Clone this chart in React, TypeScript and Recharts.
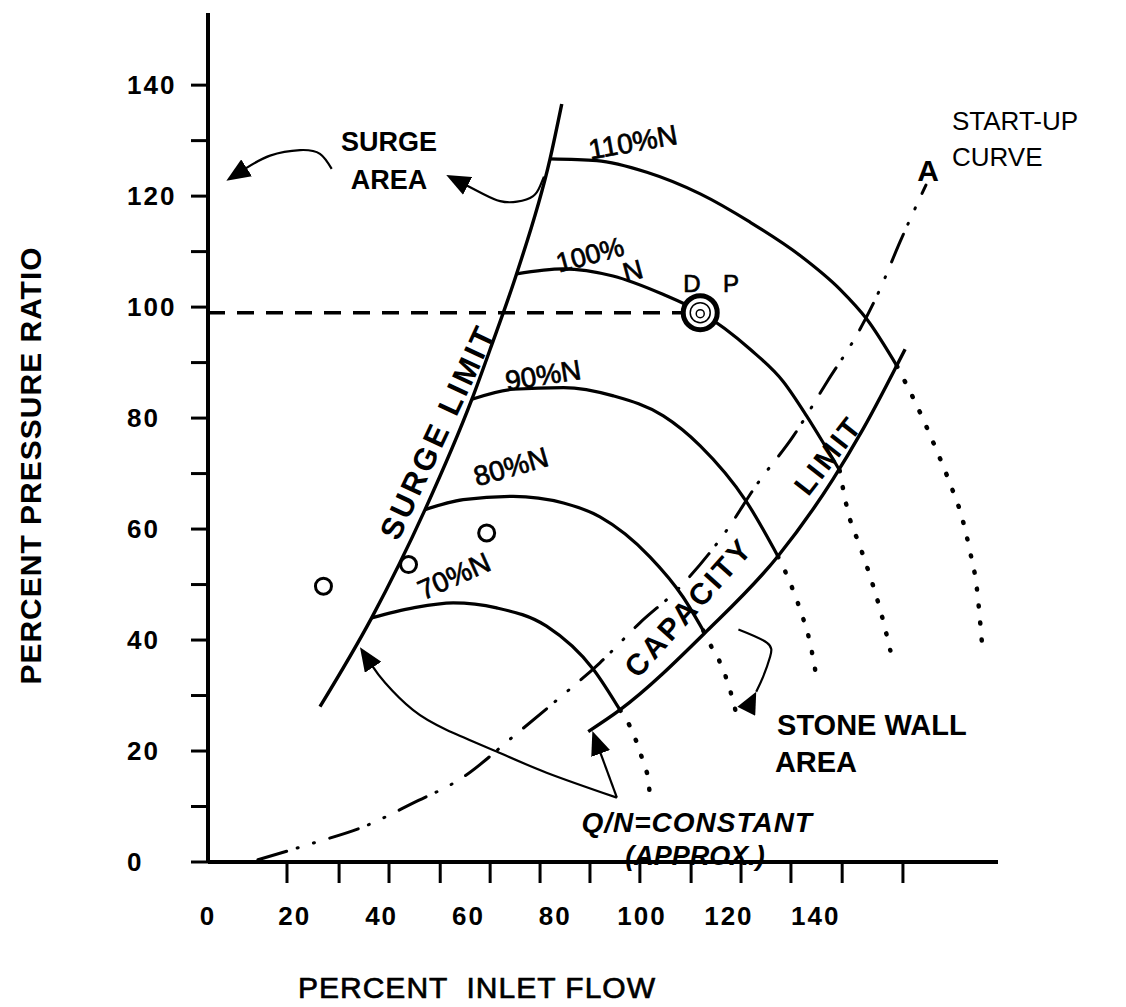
import React from "react";
import {
  ComposedChart,
  Line,
  Scatter,
  XAxis,
  YAxis,
  ReferenceDot,
} from "recharts";

type Pt = { x: number; y: number };

const FONT = '"Liberation Sans", Arial, Helvetica, sans-serif';

// axes
const yTicks = [0, 10, 20, 30, 40, 50, 60, 70, 80, 90, 100, 110, 120, 130, 140];
const yLabels = [0, 20, 40, 60, 80, 100, 120, 140];
const xLabels = [0, 20, 40, 60, 80, 100, 120, 140];
// the hand drawn tick marks on the flow axis do not sit under the labels
const xMarks = [18.2, 30.2, 41.7, 53.5, 65.0, 76.5, 88.0, 99.5, 111.3, 122.8, 134.3, 146.1, 160.1];

// surge limit and capacity (stone wall) limit
const surgeLimit: Pt[] = [
  { x: 25.8, y: 28.0 }, { x: 37.7, y: 44.0 }, { x: 50.0, y: 63.5 }, { x: 60.8, y: 83.4 },
  { x: 65.0, y: 92.4 }, { x: 71.1, y: 106.0 }, { x: 78.8, y: 126.7 }, { x: 81.5, y: 136.6 },
];
const capacityLimit: Pt[] = [
  { x: 87.6, y: 23.5 }, { x: 94.9, y: 27.4 }, { x: 114.9, y: 41.6 }, { x: 131.3, y: 55.1 },
  { x: 144.0, y: 69.0 }, { x: 150.9, y: 78.0 }, { x: 160.6, y: 92.4 },
];

// constant speed lines
const speed110: Pt[] = [
  { x: 78.8, y: 126.7 }, { x: 89.6, y: 126.4 }, { x: 101.1, y: 124.3 }, { x: 113.4, y: 120.4 },
  { x: 124.9, y: 115.3 }, { x: 136.4, y: 109.3 }, { x: 145.6, y: 103.2 }, { x: 151.8, y: 97.8 },
  { x: 158.7, y: 89.4 },
];
const speed100: Pt[] = [
  { x: 71.1, y: 106.0 }, { x: 81.8, y: 106.9 }, { x: 93.3, y: 105.6 }, { x: 104.8, y: 102.3 },
  { x: 113.4, y: 99.1 }, { x: 124.9, y: 92.4 }, { x: 132.5, y: 86.6 }, { x: 137.9, y: 80.4 },
  { x: 141.7, y: 75.6 }, { x: 145.5, y: 70.6 },
];
const speed90: Pt[] = [
  { x: 60.8, y: 83.4 }, { x: 70.3, y: 85.2 }, { x: 81.9, y: 85.5 }, { x: 93.4, y: 84.0 },
  { x: 104.9, y: 80.4 }, { x: 113.4, y: 75.0 }, { x: 124.0, y: 65.0 }, { x: 131.3, y: 55.1 },
];
const speed80: Pt[] = [
  { x: 50.0, y: 63.5 }, { x: 58.8, y: 65.3 }, { x: 70.3, y: 65.9 }, { x: 81.9, y: 64.7 },
  { x: 90.3, y: 62.2 }, { x: 101.8, y: 55.0 }, { x: 109.4, y: 47.8 }, { x: 114.1, y: 41.7 },
];
const speed70: Pt[] = [
  { x: 37.7, y: 44.0 }, { x: 47.3, y: 45.8 }, { x: 56.5, y: 46.7 }, { x: 66.5, y: 45.8 },
  { x: 78.0, y: 42.5 }, { x: 88.8, y: 34.7 }, { x: 94.9, y: 27.4 },
];

// dotted continuations into the stone wall area
const stone110: Pt[] = [
  { x: 158.7, y: 89.4 }, { x: 162.9, y: 82.9 }, { x: 167.9, y: 74.1 }, { x: 171.0, y: 68.1 },
  { x: 173.7, y: 62.1 }, { x: 175.6, y: 55.8 }, { x: 177.1, y: 49.5 }, { x: 178.3, y: 39.5 },
];
const stone100: Pt[] = [
  { x: 145.5, y: 70.6 }, { x: 147.5, y: 62.9 }, { x: 150.2, y: 56.9 }, { x: 152.9, y: 50.6 },
  { x: 155.2, y: 44.5 }, { x: 157.2, y: 38.1 },
];
const stone90: Pt[] = [
  { x: 131.3, y: 55.1 }, { x: 133.3, y: 51.8 }, { x: 136.4, y: 45.5 }, { x: 138.7, y: 39.5 },
  { x: 140.2, y: 33.2 },
];
const stone80: Pt[] = [
  { x: 114.1, y: 41.7 }, { x: 115.7, y: 39.2 }, { x: 118.0, y: 35.9 }, { x: 119.5, y: 32.9 },
  { x: 120.7, y: 29.8 }, { x: 121.8, y: 26.4 },
];
const stone70: Pt[] = [
  { x: 94.9, y: 27.4 }, { x: 97.6, y: 23.8 }, { x: 99.2, y: 20.6 }, { x: 100.3, y: 17.9 },
  { x: 101.5, y: 14.5 }, { x: 101.8, y: 11.6 },
];

const startUpCurve: Pt[] = [
  { x: 11.5, y: 0.4 }, { x: 24.2, y: 3.4 }, { x: 35.7, y: 6.3 }, { x: 47.2, y: 10.6 },
  { x: 58.8, y: 15.3 }, { x: 70.3, y: 22.6 }, { x: 80.4, y: 29.2 }, { x: 90.3, y: 35.9 },
  { x: 99.5, y: 43.1 }, { x: 108.8, y: 49.6 }, { x: 119.6, y: 59.9 }, { x: 126.5, y: 68.1 },
  { x: 134.8, y: 76.7 }, { x: 142.6, y: 86.5 }, { x: 150.2, y: 96.0 }, { x: 154.8, y: 103.2 },
  { x: 159.4, y: 111.7 }, { x: 165.4, y: 122.0 },
];

// design point and its pressure ratio
const designPoint: Pt[] = [{ x: 113.4, y: 99.0 }];
const designLine: Pt[] = [{ x: 0, y: 99.0 }, { x: 113.4, y: 99.0 }];
const openCircles: Pt[] = [{ x: 26.6, y: 49.7 }, { x: 46.2, y: 53.6 }, { x: 64.2, y: 59.3 }];

// annotation arrows
const qnArrowCurved: Pt[] = [
  { x: 94.2, y: 11.6 }, { x: 78.0, y: 16.1 }, { x: 66.5, y: 19.9 }, { x: 55.0, y: 23.8 },
  { x: 47.2, y: 27.4 }, { x: 40.8, y: 32.3 }, { x: 37.8, y: 35.4 },
];
const qnArrowStraight: Pt[] = [{ x: 94.2, y: 11.6 }, { x: 90.3, y: 19.9 }];
const surgeArrowLeft: Pt[] = [
  { x: 28.5, y: 124.9 }, { x: 25.8, y: 127.6 }, { x: 21.2, y: 128.3 }, { x: 14.3, y: 127.3 },
  { x: 8.5, y: 124.9 },
];
const surgeArrowRight: Pt[] = [
  { x: 77.4, y: 123.5 }, { x: 76.5, y: 121.8 }, { x: 74.9, y: 120.0 }, { x: 71.2, y: 119.0 },
  { x: 67.3, y: 119.1 }, { x: 63.4, y: 120.4 }, { x: 59.4, y: 122.0 },
];
const stoneArrow: Pt[] = [
  { x: 122.2, y: 41.9 }, { x: 128.8, y: 39.5 }, { x: 129.5, y: 37.0 }, { x: 127.9, y: 33.4 },
  { x: 126.3, y: 30.7 },
];

const YTick = (p: any) => {
  const v = p.payload?.value;
  if (!yLabels.includes(v)) return <g />;
  return (
    <text
      x={p.x - 60}
      y={p.y}
      textAnchor="start"
      dominantBaseline="central"
      fontFamily={FONT}
      fontSize={26}
      fontWeight="bold"
      letterSpacing={2}
      fill="#000"
    >
      {v}
    </text>
  );
};

const XTick = (p: any) => {
  const v = p.payload?.value;
  if (xLabels.includes(v)) {
    return (
      <text
        x={p.x}
        y={p.y + 54}
        textAnchor="middle"
        dominantBaseline="central"
        fontFamily={FONT}
        fontSize={26}
        fontWeight="bold"
        letterSpacing={2}
        fill="#000"
      >
        {v}
      </text>
    );
  }
  return <line x1={p.x} y1={p.y} x2={p.x} y2={p.y + 21} stroke="#000" strokeWidth={3} />;
};

const YTitle = (p: any) => {
  const vb = p.viewBox || { x: 0, y: 5, height: 849 };
  const x = vb.x + 22;
  const y = vb.y + vb.height / 2 + 28;
  return (
    <text
      x={x}
      y={y}
      transform={`rotate(-90 ${x} ${y})`}
      textAnchor="middle"
      dominantBaseline="central"
      fontFamily={FONT}
      fontSize={30}
      fontWeight="bold"
      letterSpacing={1}
      fill="#000"
    >
      PERCENT PRESSURE RATIO
    </text>
  );
};

const XTitle = (p: any) => {
  const vb = p.viewBox || { x: 200, y: 854 };
  return (
    <text
      x={vb.x + 269}
      y={vb.y + 125}
      textAnchor="middle"
      dominantBaseline="central"
      fontFamily={FONT}
      fontSize={30}
      letterSpacing={1}
      stroke="#000"
      strokeWidth={0.7}
      fill="#000"
      style={{ whiteSpace: "pre" }}
    >
      {"PERCENT  INLET FLOW"}
    </text>
  );
};

interface NoteStyle {
  size?: number;
  bold?: boolean;
  italic?: boolean;
  heavy?: boolean;
  angle?: number;
  anchor?: "start" | "middle" | "end";
  spacing?: number;
}

const note = (key: string, x: number, y: number, text: string, s: NoteStyle = {}) => (
  <ReferenceDot
    key={key}
    x={x}
    y={y}
    r={0}
    ifOverflow="visible"
    shape={(p: any) => (
      <text
        x={p.cx}
        y={p.cy}
        transform={s.angle ? `rotate(${s.angle} ${p.cx} ${p.cy})` : undefined}
        textAnchor={s.anchor || "middle"}
        dominantBaseline="central"
        fontFamily={FONT}
        fontSize={s.size || 26}
        fontWeight={s.bold ? "bold" : "normal"}
        fontStyle={s.italic ? "italic" : "normal"}
        letterSpacing={s.spacing || 0}
        stroke={s.heavy ? "#000" : "none"}
        strokeWidth={s.heavy ? 0.7 : 0}
        fill="#000"
      >
        {text}
      </text>
    )}
  />
);

const curve = (key: string, data: Pt[], style: Record<string, any> = {}) => (
  <Line
    key={key}
    data={data}
    dataKey="y"
    type="monotone"
    stroke="#000"
    strokeWidth={3.2}
    dot={false}
    activeDot={false}
    legendType="none"
    isAnimationActive={false}
    {...style}
  />
);

const dotted = { strokeWidth: 4.5, strokeDasharray: "1 16", strokeLinecap: "round" };
const arrowStyle = { strokeWidth: 2.2, type: "natural", markerEnd: "url(#arrowHead)" };

export default function App() {
  return (
    <div style={{ width: 1110, height: 995, background: "#fff" }}>
      <ComposedChart
        width={1110}
        height={995}
        margin={{ top: 5, right: 120, bottom: 0, left: 0 }}
      >
        <defs>
          <marker
            id="arrowHead"
            viewBox="0 0 24 20"
            refX="2"
            refY="10"
            markerWidth="24"
            markerHeight="20"
            markerUnits="userSpaceOnUse"
            orient="auto"
          >
            <path d="M0,0 L24,10 L0,20 Z" fill="#000" />
          </marker>
          <marker
            id="arrowBack"
            viewBox="0 0 24 20"
            refX="0"
            refY="10"
            markerWidth="24"
            markerHeight="20"
            markerUnits="userSpaceOnUse"
            orient="auto"
          >
            <path d="M0,10 L22,0 L22,20 Z" fill="#000" />
          </marker>
        </defs>

        <XAxis
          type="number"
          dataKey="x"
          domain={[0, 182]}
          allowDataOverflow
          ticks={[...xLabels, ...xMarks]}
          interval={0}
          tickLine={false}
          tickSize={0}
          tickMargin={0}
          axisLine={{ stroke: "#000", strokeWidth: 4 }}
          tick={<XTick />}
          height={141}
          label={<XTitle />}
        />
        <YAxis
          type="number"
          domain={[0, 153]}
          allowDataOverflow
          ticks={yTicks}
          interval={0}
          tickSize={17}
          tickMargin={4}
          tickLine={{ stroke: "#000", strokeWidth: 3 }}
          axisLine={{ stroke: "#000", strokeWidth: 4 }}
          tick={<YTick />}
          width={200}
          label={<YTitle />}
        />

        {curve("designLine", designLine, { strokeWidth: 3.5, strokeDasharray: "17 12" })}
        {curve("startUp", startUpCurve, { strokeWidth: 3, strokeDasharray: "30 11 1 16 1 16", strokeLinecap: "round" })}
        {curve("stone110", stone110, dotted)}
        {curve("stone100", stone100, dotted)}
        {curve("stone90", stone90, dotted)}
        {curve("stone80", stone80, dotted)}
        {curve("stone70", stone70, dotted)}
        {curve("surge", surgeLimit, { strokeWidth: 3.4 })}
        {curve("capacity", capacityLimit, { strokeWidth: 3.4 })}
        {curve("n110", speed110)}
        {curve("n100", speed100)}
        {curve("n90", speed90)}
        {curve("n80", speed80)}
        {curve("n70", speed70)}
        {curve("qnCurved", qnArrowCurved, arrowStyle)}
        {curve("qnStraight", qnArrowStraight, { ...arrowStyle, type: "linear" })}
        {curve("surgeLeft", surgeArrowLeft, arrowStyle)}
        {curve("surgeRight", surgeArrowRight, arrowStyle)}
        {curve("stoneArrow", stoneArrow, { strokeWidth: 2.2, type: "natural", markerEnd: "url(#arrowBack)" })}

        <Scatter
          data={openCircles}
          dataKey="y"
          legendType="none"
          isAnimationActive={false}
          shape={(p: any) => (
            <circle cx={p.cx} cy={p.cy} r={8} fill="#fff" stroke="#000" strokeWidth={3} />
          )}
        />
        <Scatter
          data={designPoint}
          dataKey="y"
          legendType="none"
          isAnimationActive={false}
          shape={(p: any) => (
            <g>
              <circle cx={p.cx} cy={p.cy} r={17} fill="#fff" stroke="#000" strokeWidth={5} />
              <circle cx={p.cx} cy={p.cy} r={10} fill="none" stroke="#000" strokeWidth={1.5} />
              <circle cx={p.cx} cy={p.cy + 1} r={4} fill="none" stroke="#000" strokeWidth={1.5} />
            </g>
          )}
        />

        {note("surge1", 41.7, 129.7, "SURGE", { size: 27, bold: true })}
        {note("surge2", 41.7, 122.9, "AREA", { size: 27, bold: true })}
        {note("n110", 97.9, 129.7, "110%N", { size: 28, heavy: true, angle: -10 })}
        {note("n100", 88.0, 109.4, "100%", { size: 27, heavy: true, angle: -15 })}
        {note("n100b", 97.9, 106.5, "N", { size: 27, heavy: true, angle: -15 })}
        {note("d", 111.5, 104.3, "D", { size: 24, heavy: true })}
        {note("p", 120.5, 104.3, "P", { size: 24, heavy: true })}
        {note("n90", 77.2, 87.7, "90%N", { size: 28, heavy: true, angle: -9 })}
        {note("n80", 69.8, 71.2, "80%N", { size: 28, heavy: true, angle: -16 })}
        {note("n70", 56.7, 51.5, "70%N", { size: 28, heavy: true, angle: -24 })}
        {note("surgeLimit", 53.0, 77.5, "SURGE LIMIT", { size: 31, bold: true, angle: -65, spacing: 3 })}
        {note("capacity", 110.7, 45.9, "CAPACITY", { size: 30, bold: true, angle: -48, spacing: 3 })}
        {note("limit", 142.9, 73.3, "LIMIT", { size: 29, bold: true, angle: -52, spacing: 3 })}
        {note("startup1", 171.4, 133.5, "START-UP", { anchor: "start" })}
        {note("startup2", 171.4, 127.0, "CURVE", { anchor: "start" })}
        {note("a", 165.9, 124.7, "A", { size: 30, bold: true })}
        {note("stone1", 131.1, 24.7, "STONE WALL", { size: 29, bold: true, anchor: "start" })}
        {note("stone2", 130.6, 18.0, "AREA", { size: 29, bold: true, anchor: "start" })}
        {note("qn", 112.7, 7.2, "Q/N=CONSTANT", { size: 28, bold: true, italic: true, spacing: 1 })}
        {note("approx", 112.2, 1.1, "(APPROX.)", { size: 27, bold: true, italic: true })}
      </ComposedChart>
    </div>
  );
}
